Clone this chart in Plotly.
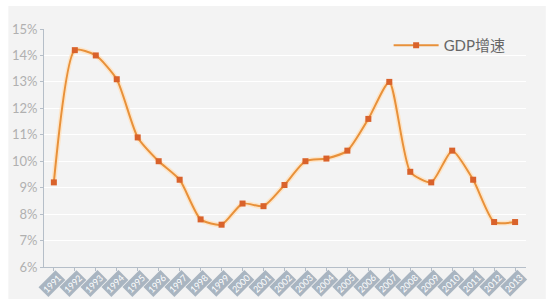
import plotly.graph_objects as go

years = [str(y) for y in range(1991, 2014)]
gdp_growth = [9.2, 14.2, 14.0, 13.1, 10.9, 10.0, 9.3, 7.8, 7.6, 8.4, 8.3, 9.1,
              10.0, 10.1, 10.4, 11.6, 13.0, 9.6, 9.2, 10.4, 9.3, 7.7, 7.7]
y_ticks = [6, 7, 8, 9, 10, 11, 12, 13, 14, 15]
y_tick_labels = [f"{v}%" for v in y_ticks]
series_name = "GDP增速"

xpos = list(range(len(years)))

fig = go.Figure()
fig.add_trace(go.Scatter(
    x=xpos, y=gdp_growth, mode="lines", line=dict(color="rgba(255,225,190,0.8)", width=5, shape="spline", smoothing=0.6),
    showlegend=False, hoverinfo="skip"))
fig.add_trace(go.Scatter(
    x=xpos, y=gdp_growth, mode="lines+markers", name=series_name,
    line=dict(color="#e8913a", width=2, shape="spline", smoothing=0.6),
    marker=dict(symbol="square", size=6, color="#d9622b")))

for i, yr in zip(xpos, years):
    fig.add_annotation(x=i, y=0, xref="x", yref="paper", text=yr, showarrow=False,
                       textangle=-45, bgcolor="#a9b5c1", font=dict(color="white", size=9, family="Lato"),
                       yanchor="middle", xanchor="center", yshift=-16, xshift=-2, borderpad=1)

fig.add_shape(type="rect", xref="paper", yref="paper", x0=-36/487, x1=(546-39)/487,
              y0=-(299-267)/238, y1=(267-6)/238, fillcolor="#f3f3f3", line=dict(width=0), layer="below")

fig.update_layout(
    width=550, height=307, margin=dict(l=39, r=24, t=29, b=40),
    paper_bgcolor="white", plot_bgcolor="#f3f3f3",
    font=dict(family="Lato", color="#b0b0b0"),
    legend=dict(x=0.715, y=1.0, xanchor="left", yanchor="top", bgcolor="rgba(0,0,0,0)", itemwidth=45,
                font=dict(size=15, color="#666666", family="Lato, Noto Sans CJK SC")),
    xaxis=dict(range=[-0.47, 22.52], tickvals=xpos, showticklabels=False, showgrid=False,
               showline=True, linecolor="#b5bec8", linewidth=1, ticks="outside", ticklen=3,
               tickcolor="#b5bec8", zeroline=False),
    yaxis=dict(range=[6, 15], tickvals=y_ticks, ticktext=y_tick_labels, showgrid=True,
               gridcolor="white", gridwidth=1, showline=True, linecolor="#b5bec8", linewidth=1,
               ticks="outside", ticklen=3, tickcolor="#b5bec8", zeroline=False,
               tickfont=dict(size=13, color="#b0b0b0", family="Lato")),
)

fig.write_html("out.html")
